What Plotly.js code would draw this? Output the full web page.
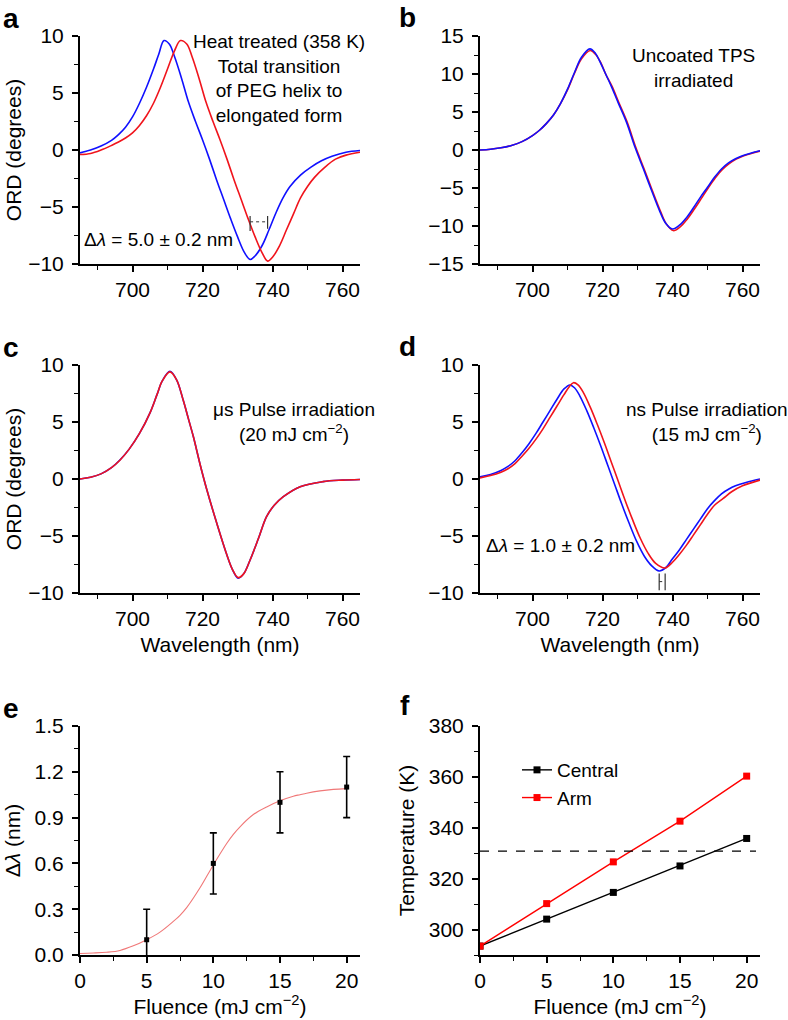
<!DOCTYPE html>
<html>
<head>
<meta charset="utf-8">
<script src="https://cdn.plot.ly/plotly-3.0.1.min.js"></script>
<style>html,body{margin:0;padding:0;background:#fff}#chart{width:788px;height:1020px}</style>
</head>
<body>
<div id="chart"></div>
<script>
// ---------- DATA ----------
// Panel a: heat treated (358 K)
const aBlueWl  = [685,688,691,694,696,698,700,702,704,706,707.5,709,710.5,712,714,716,718,720,722,724,726,728,730,732,733.6,735,737,739,741,743,745,748,751,754,757,761,765];
const aBlueOrd = [-0.25,0.0,0.35,0.85,1.35,2.0,2.9,4.1,5.5,7.1,8.4,9.6,9.3,8.2,6.3,4.2,2.5,0.9,-0.8,-2.6,-4.3,-6.0,-7.6,-9.0,-9.6,-9.3,-8.4,-7.0,-5.5,-4.2,-3.2,-2.2,-1.5,-0.95,-0.55,-0.2,-0.05];
const aRedWl   = [685,688,691,694,696,698,700,702,704,706,708,710,712,713.7,715.5,717,719,721,723,725,727,729,731,733,735,737,738.6,740,742,744,746,748,750,752,755,758,761,765];
const aRedOrd  = [-0.4,-0.3,0.0,0.4,0.7,1.05,1.5,2.15,3.0,4.1,5.5,7.1,8.7,9.6,9.3,8.2,6.3,4.2,2.5,0.9,-0.8,-2.6,-4.3,-6.0,-7.6,-9.0,-9.75,-9.4,-8.4,-7.0,-5.6,-4.2,-3.2,-2.4,-1.5,-0.8,-0.45,-0.2];
// Panel b: uncoated TPS irradiated
const bBlueWl  = [685,688,691,694,697,700,702,704,706,708,710,712,714,716.4,718,719.3,721,722.5,724.5,726.9,729.3,731.7,734,736.4,738,740,742,744,746,748,750,752,754,756,758,760,762.5,765];
const bBlueOrd = [0.0,0.1,0.3,0.6,1.1,1.9,2.6,3.5,4.6,6.1,8.0,10.2,12.2,13.3,12.7,11.6,9.9,8.4,6.2,3.6,0.35,-2.5,-5.3,-8.1,-9.6,-10.4,-9.9,-8.9,-7.6,-6.2,-4.9,-3.6,-2.5,-1.7,-1.15,-0.75,-0.4,-0.1];
const bRedWl   = [685,688,691,694,697,700,702,704,706,708,710,712,714,716.5,718,719.5,721,722.7,724.7,727.1,729.5,731.9,734.2,736.6,738.2,740.2,742.2,744.2,746.2,748.2,750.2,752.2,754.2,756.2,758.2,760.2,762.5,765];
const bRedOrd  = [0.0,0.1,0.3,0.6,1.1,1.9,2.6,3.5,4.6,6.1,7.9,10.1,12.0,13.1,12.6,11.5,9.9,8.4,6.2,3.6,0.35,-2.5,-5.3,-8.1,-9.7,-10.6,-10.1,-9.1,-7.8,-6.4,-5.0,-3.7,-2.6,-1.8,-1.2,-0.8,-0.45,-0.15];
// Panel c: µs pulse irradiation (20 mJ cm-2)
const cBlueWl  = [685,688,691,694,696.4,699,702,705,707,708.5,710.7,712.6,714.5,716,717.4,719.3,721.2,724,726.9,728.5,730.2,731.8,733.6,736,738.3,740.5,743.1,747.9,754.4,760,765];
const cBlueOrd = [0.0,0.15,0.45,1.0,1.67,2.6,4.0,5.8,7.4,8.6,9.45,8.7,6.9,5.25,3.7,1.3,-0.9,-3.8,-6.6,-7.9,-8.7,-8.3,-7.1,-5.2,-3.3,-2.3,-1.55,-0.67,-0.23,-0.1,-0.05];
const cRedWl   = cBlueWl;
const cRedOrd  = [0.0,0.15,0.45,1.0,1.65,2.6,4.0,5.8,7.4,8.6,9.4,8.7,6.9,5.25,3.7,1.3,-0.9,-3.8,-6.6,-7.9,-8.65,-8.3,-7.1,-5.2,-3.3,-2.3,-1.55,-0.67,-0.23,-0.1,-0.05];
// Panel d: ns pulse irradiation (15 mJ cm-2)
const dBlueWl  = [685,688,691,693,695,697,699,701,703,705,707,709,710.7,712,713.5,715.5,717.5,719.5,721.5,723.5,725.5,727.5,729.8,732,734,736.2,738,740,742,744,746,748,750,752,754,756,758,761,765];
const dBlueOrd = [0.2,0.4,0.75,1.1,1.6,2.3,3.1,4.0,5.0,6.0,7.0,7.9,8.25,8.0,7.3,6.0,4.5,2.9,1.2,-0.5,-2.2,-3.8,-5.5,-6.8,-7.6,-8.07,-7.8,-7.0,-6.2,-5.3,-4.4,-3.5,-2.6,-1.9,-1.3,-0.9,-0.6,-0.3,0.0];
const dRedWl   = [685,688,691,693,695,697,699,701,703,705,707,709,710.5,711.7,713,714.5,716.5,718.5,720.5,722.5,724.5,726.5,728.5,730.8,733,735.2,737.9,740,742,744,746,748,750,752,754.5,757,760,765];
const dRedOrd  = [0.1,0.3,0.6,0.9,1.35,2.0,2.7,3.5,4.4,5.4,6.4,7.4,8.1,8.45,8.25,7.6,6.3,4.8,3.2,1.5,-0.2,-1.9,-3.5,-5.2,-6.5,-7.4,-7.8,-7.3,-6.6,-5.8,-4.9,-4.0,-3.1,-2.3,-1.7,-1.1,-0.6,-0.1];
// Panel e: wavelength shift vs fluence
const eFluence = [5,10,15,20];
const eShift   = [0.1,0.6,1.0,1.1];
const eErr     = [0.2,0.2,0.2,0.2];
const eFitX    = [0,1,2,3,4,5,6,7,7.5,8,9,10,11,11.5,12,13,14,15,16,16.5,17,18,19,20];
const eFitY    = [0.01,0.013,0.018,0.03,0.06,0.1,0.15,0.22,0.26,0.31,0.44,0.59,0.73,0.79,0.84,0.92,0.97,1.01,1.04,1.05,1.06,1.075,1.085,1.09];
// Panel f: temperature vs fluence
const fFluence = [0,5,10,15,20];
const fCentral = [293.5,304.1,314.6,325.0,335.8];
const fArm     = [293.5,310.2,326.6,342.6,360.3];
const fThreshold = 330.8;

// ---------- LAYOUT HELPERS ----------
const W = 788, H = 1020;
const P = x => x / W;          // pixel -> paper x
const Q = y => 1 - y / H;      // pixel -> paper y
const FONT = 'Liberation Sans, Arial, Helvetica, sans-serif';
const BLUE = '#1010ff', RED = '#f0141c';

function axis(letter, dom, range, dtick, tick0, minor, extra) {
  return Object.assign({
    domain: dom, range: range, dtick: dtick, tick0: tick0,
    ticks: 'outside', ticklen: 6, tickwidth: 1.6, tickcolor: '#000',
    showline: true, linewidth: 2, linecolor: '#000',
    showgrid: false, zeroline: false, fixedrange: true,
    tickfont: {family: FONT, size: 21, color: '#000'},
    ticklabelstandoff: letter === 'y' ? 4 : 0,
    minor: {dtick: minor, ticks: 'outside', ticklen: 4, tickwidth: 1.4, tickcolor: '#000', showgrid: false}
  }, extra || {});
}
const titleFont = {family: FONT, size: 21, color: '#000'};
const xL = [P(80), P(360)], xR = [P(480), P(760)];
const yTop = [Q(264), Q(36)], yMid = [Q(593), Q(365)], yBot = [Q(955), Q(726)];

function line(x, y, color, xa, ya) {
  return {x: x, y: y, xaxis: xa, yaxis: ya, type: 'scatter', mode: 'lines',
          line: {color: color, width: 1.6, shape: 'spline', smoothing: 1.0},
          showlegend: false, hoverinfo: 'skip'};
}

const traces = [
  line(aBlueWl, aBlueOrd, BLUE, 'x', 'y'),
  line(aRedWl, aRedOrd, RED, 'x', 'y'),
  line(bRedWl, bRedOrd, RED, 'x2', 'y2'),
  line(bBlueWl, bBlueOrd, BLUE, 'x2', 'y2'),
  line(cBlueWl, cBlueOrd, BLUE, 'x3', 'y3'),
  line(cRedWl, cRedOrd, RED, 'x3', 'y3'),
  line(dBlueWl, dBlueOrd, BLUE, 'x4', 'y4'),
  line(dRedWl, dRedOrd, RED, 'x4', 'y4'),
  {x: eFitX, y: eFitY, xaxis: 'x5', yaxis: 'y5', type: 'scatter', mode: 'lines',
   line: {color: '#f07878', width: 1.1, shape: 'spline'}, showlegend: false, hoverinfo: 'skip'},
  {x: eFluence, y: eShift, xaxis: 'x5', yaxis: 'y5', type: 'scatter', mode: 'markers',
   marker: {symbol: 'square', size: 5, color: '#000'},
   error_y: {type: 'data', array: eErr, visible: true, color: '#000', thickness: 1.6, width: 3.5},
   showlegend: false, hoverinfo: 'skip'},
  {x: fFluence, y: fCentral, xaxis: 'x6', yaxis: 'y6', type: 'scatter', mode: 'lines+markers',
   name: 'Central', line: {color: '#000', width: 1.4},
   marker: {symbol: 'square', size: 7, color: '#000'}, showlegend: true},
  {x: fFluence, y: fArm, xaxis: 'x6', yaxis: 'y6', type: 'scatter', mode: 'lines+markers',
   name: 'Arm', line: {color: '#ff0000', width: 1.4},
   marker: {symbol: 'square', size: 7, color: '#ff0000'}, showlegend: true}
];

// Δλ brackets sit at the minima of the curves
function argminX(xs, ys) { let k = 0; ys.forEach((v, i) => { if (v < ys[k]) k = i; }); return xs[k]; }
const aMinB = argminX(aBlueWl, aBlueOrd), aMinR = argminX(aRedWl, aRedOrd);
const dMinB = argminX(dBlueWl, dBlueOrd), dMinR = argminX(dRedWl, dRedOrd);

const brk = '#333';
const shapes = [
  {type: 'line', xref: 'x', yref: 'y', x0: aMinB, x1: aMinB, y0: -5.8, y1: -7.1, line: {color: brk, width: 1.2}},
  {type: 'line', xref: 'x', yref: 'y', x0: aMinR, x1: aMinR, y0: -5.8, y1: -6.9, line: {color: brk, width: 1.2}},
  {type: 'line', xref: 'x', yref: 'y', x0: aMinB, x1: aMinR, y0: -6.3, y1: -6.3, line: {color: brk, width: 1, dash: 'dot'}},
  {type: 'line', xref: 'x4', yref: 'y4', x0: dMinB, x1: dMinB, y0: -8.3, y1: -9.75, line: {color: brk, width: 1.2}},
  {type: 'line', xref: 'x4', yref: 'y4', x0: dMinR, x1: dMinR, y0: -8.3, y1: -9.75, line: {color: brk, width: 1.2}},
  {type: 'line', xref: 'x4', yref: 'y4', x0: dMinB, x1: dMinR, y0: -9.0, y1: -9.0, line: {color: brk, width: 1, dash: 'dot'}},
  {type: 'line', xref: 'x6', yref: 'y6', x0: 0, x1: 20.7, y0: fThreshold, y1: fThreshold, line: {color: '#000', width: 1.2, dash: 'dash'}}
];

function ann(text, x, y, size, opts) {
  return Object.assign({text: text, x: P(x), y: Q(y), xref: 'paper', yref: 'paper',
    showarrow: false, font: {family: FONT, size: size, color: '#000'},
    xanchor: 'center', yanchor: 'middle'}, opts || {});
}
const letter = (t, x, y) => ann('<b>' + t + '</b>', x, y, 28, {xanchor: 'left'});

const annotations = [
  letter('a', 1, 18), letter('b', 397, 17), letter('c', 1, 347),
  letter('d', 397, 346), letter('e', 1, 708), letter('f', 398, 705),
  ann('Heat treated (358 K)<br>Total transition<br>of PEG helix to<br>elongated form', 279, 79, 19),
  ann('Δ<i>λ</i> = 5.0 ± 0.2 nm', 82, 239, 19, {xanchor: 'left'}),
  ann('Uncoated TPS<br>irradiated', 693, 68, 19),
  ann('μs Pulse irradiation<br>(20 mJ cm<sup>−2</sup>)', 294, 422, 19),
  ann('ns Pulse irradiation<br>(15 mJ cm<sup>−2</sup>)', 707, 422, 19),
  ann('Δ<i>λ</i> = 1.0 ± 0.2 nm', 484, 545, 19, {xanchor: 'left'})
];

const layout = {
  width: W, height: H, margin: {l: 0, r: 0, t: 0, b: 0},
  paper_bgcolor: '#fff', plot_bgcolor: 'rgba(0,0,0,0)',
  font: {family: FONT, color: '#000'},
  showlegend: true,
  legend: {x: P(517), y: Q(751), xanchor: 'left', yanchor: 'top',
           font: {family: FONT, size: 19, color: '#000'}, bgcolor: 'rgba(0,0,0,0)', itemwidth: 30},
  xaxis:  axis('x', xL, [685, 765], 20, 0, 10, {anchor: 'y'}),
  yaxis:  axis('y', yTop, [-10, 10], 5, 0, 2.5, {anchor: 'x', title: {text: 'ORD (degrees)', font: titleFont, standoff: 1}}),
  xaxis2: axis('x', xR, [685, 765], 20, 0, 10, {anchor: 'y2'}),
  yaxis2: axis('y', yTop, [-15, 15], 5, 0, 2.5, {anchor: 'x2'}),
  xaxis3: axis('x', xL, [685, 765], 20, 0, 10, {anchor: 'y3', title: {text: 'Wavelength (nm)', font: titleFont, standoff: 8}}),
  yaxis3: axis('y', yMid, [-10, 10], 5, 0, 2.5, {anchor: 'x3', title: {text: 'ORD (degrees)', font: titleFont, standoff: 1}}),
  xaxis4: axis('x', xR, [685, 765], 20, 0, 10, {anchor: 'y4', title: {text: 'Wavelength (nm)', font: titleFont, standoff: 8}}),
  yaxis4: axis('y', yMid, [-10, 10], 5, 0, 2.5, {anchor: 'x4'}),
  xaxis5: axis('x', xL, [0, 21], 5, 0, 2.5, {anchor: 'y5', title: {text: 'Fluence (mJ cm<sup>−2</sup>)', font: titleFont, standoff: 8}}),
  yaxis5: axis('y', yBot, [0, 1.5], 0.3, 0, 0.15, {anchor: 'x5', tickformat: '.1f', title: {text: 'Δ<i>λ</i> (nm)', font: titleFont, standoff: 8}}),
  xaxis6: axis('x', xR, [0, 21], 5, 0, 2.5, {anchor: 'y6', title: {text: 'Fluence (mJ cm<sup>−2</sup>)', font: titleFont, standoff: 8}}),
  yaxis6: axis('y', yBot, [290, 380], 20, 300, 10, {anchor: 'x6', title: {text: 'Temperature (K)', font: titleFont, standoff: 8}}),
  shapes: shapes,
  annotations: annotations
};

Plotly.newPlot('chart', traces, layout, {displayModeBar: false});
</script>
</body>
</html>
